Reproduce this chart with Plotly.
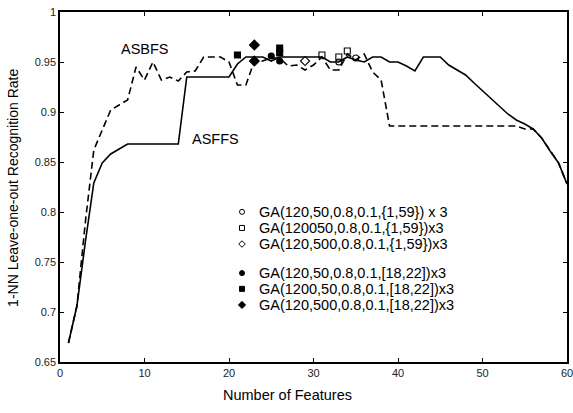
import plotly.graph_objects as go

# ---- data ----
n_features = list(range(1, 61))
asffs = [0.669, 0.706, 0.770, 0.829, 0.849, 0.858, 0.863, 0.868, 0.868, 0.868,
         0.868, 0.868, 0.868, 0.868, 0.935, 0.935, 0.935, 0.935, 0.935, 0.935,
         0.948, 0.955, 0.955, 0.955, 0.951, 0.955, 0.955, 0.955, 0.955, 0.955,
         0.955, 0.950, 0.950, 0.955, 0.952, 0.950, 0.955, 0.955, 0.950, 0.950,
         0.946, 0.941, 0.955, 0.955, 0.955, 0.947, 0.942, 0.937, 0.929, 0.921,
         0.913, 0.906, 0.898, 0.892, 0.888, 0.883, 0.874, 0.861, 0.849, 0.828]
asbfs = [0.669, 0.706, 0.790, 0.862, 0.882, 0.902, 0.907, 0.912, 0.945, 0.932,
         0.950, 0.932, 0.935, 0.931, 0.940, 0.941, 0.955, 0.955, 0.955, 0.950,
         0.927, 0.927, 0.951, 0.951, 0.954, 0.954, 0.946, 0.947, 0.942, 0.947,
         0.955, 0.942, 0.942, 0.958, 0.952, 0.958, 0.940, 0.932, 0.886, 0.886,
         0.886, 0.886, 0.886, 0.886, 0.886, 0.886, 0.886, 0.886, 0.886, 0.886,
         0.886, 0.886, 0.886, 0.886, 0.883, 0.883, 0.874, 0.861, 0.849, 0.828]

ga_labels = ["GA(120,50,0.8,0.1,{1,59}) x 3",
             "GA(120050,0.8,0.1,{1,59})x3",
             "GA(120,500,0.8,0.1,{1,59})x3",
             "GA(120,50,0.8,0.1,[18,22])x3",
             "GA(1200,50,0.8,0.1,[18,22])x3",
             "GA(120,500,0.8,0.1,[18,22])x3"]
ga_x = [[33, 35], [31, 33, 34], [29], [25, 26], [21, 26, 26], [23, 23]]
ga_y = [[0.950, 0.954], [0.957, 0.955, 0.961], [0.951], [0.956, 0.951],
        [0.957, 0.964, 0.959], [0.967, 0.951]]
ga_symbols = ["circle-open", "square-open", "diamond-open", "circle", "square", "diamond"]

x_ticks = [0, 10, 20, 30, 40, 50, 60]
y_ticks = [0.65, 0.7, 0.75, 0.8, 0.85, 0.9, 0.95, 1.0]
y_ticktext = ["0.65", "0.7", "0.75", "0.8", "0.85", "0.9", "0.95", "1"]

# ---- layout constants ----
FONT = "Liberation Sans, Arial, Helvetica, sans-serif"
TXT = 14.5
legend_rows_y = [0.429, 0.383, 0.337, 0.254, 0.209, 0.163]  # fraction of plot height
legend_marker_x = 0.359
legend_text_x = 0.389
ga_sizes = [6, 6, 7, 6, 6, 7.5]
legend_sizes = [5, 5, 5, 5, 5, 5.5]

fig = go.Figure()

fig.add_trace(go.Scatter(x=n_features, y=asffs, mode="lines",
                         line=dict(color="black", width=1.6),
                         showlegend=False, name="ASFFS"))
fig.add_trace(go.Scatter(x=n_features, y=asbfs, mode="lines",
                         line=dict(color="black", width=1.6, dash="7px,4px"),
                         showlegend=False, name="ASBFS"))

for xs, ys, sym, lab, sz in zip(ga_x, ga_y, ga_symbols, ga_labels, ga_sizes):
    fig.add_trace(go.Scatter(x=xs, y=ys, mode="markers",
                             marker=dict(symbol=sym, size=sz, color="black",
                                         line=dict(color="black", width=1.1)),
                             showlegend=False, name=lab))

# custom legend on an overlay axis (0..1 over the plot area)
for ry, sym, lab, sz in zip(legend_rows_y, ga_symbols, ga_labels, legend_sizes):
    fig.add_trace(go.Scatter(x=[legend_marker_x], y=[ry], mode="markers",
                             xaxis="x2", yaxis="y2",
                             marker=dict(symbol=sym, size=sz, color="black",
                                         line=dict(color="black", width=1.0)),
                             showlegend=False, hoverinfo="skip"))
    fig.add_annotation(x=legend_text_x, y=ry, xref="x2", yref="y2", text=lab,
                       showarrow=False, xanchor="left", yanchor="middle",
                       font=dict(family=FONT, size=TXT, color="black"))

fig.add_annotation(x=10.1, y=0.963, text="ASBFS", showarrow=False,
                   font=dict(family=FONT, size=TXT, color="black"))
fig.add_annotation(x=18.4, y=0.873, text="ASFFS", showarrow=False,
                   font=dict(family=FONT, size=TXT, color="black"))

# axis titles as annotations (paper coords)
fig.add_annotation(x=0.448, y=-0.093, xref="paper", yref="paper",
                   text="Number of Features", showarrow=False,
                   xanchor="center", yanchor="middle",
                   font=dict(family=FONT, size=TXT, color="black"))
fig.add_annotation(x=-0.093, y=0.497, xref="paper", yref="paper",
                   text="1-NN Leave-one-out Recognition Rate", showarrow=False,
                   textangle=-90, xanchor="center", yanchor="middle",
                   font=dict(family=FONT, size=14, color="black"))

axis_common = dict(showgrid=False, zeroline=False, showline=True,
                   linecolor="black", linewidth=1.5, mirror="ticks",
                   ticks="inside", ticklen=4, tickwidth=1, tickcolor="black",
                   automargin=False, ticklabeloverflow="allow",
                   tickfont=dict(family=FONT, size=11, color="#222"))

fig.update_layout(
    width=573, height=413,
    margin=dict(l=60, r=6, t=12, b=51, autoexpand=False),
    paper_bgcolor="white", plot_bgcolor="white",
    font=dict(family=FONT, color="black"),
    xaxis=dict(range=[0, 60], tickvals=x_ticks, **axis_common),
    yaxis=dict(range=[0.65, 1.0], tickvals=y_ticks, ticktext=y_ticktext,
               **axis_common),
    xaxis2=dict(range=[0, 1], overlaying="x", anchor="y2", visible=False),
    yaxis2=dict(range=[0, 1], overlaying="y", anchor="x2", visible=False),
)

fig.write_html("out.html",
               config={"displayModeBar": False},
               post_script="document.body.style.margin='0';document.body.style.padding='0';")
